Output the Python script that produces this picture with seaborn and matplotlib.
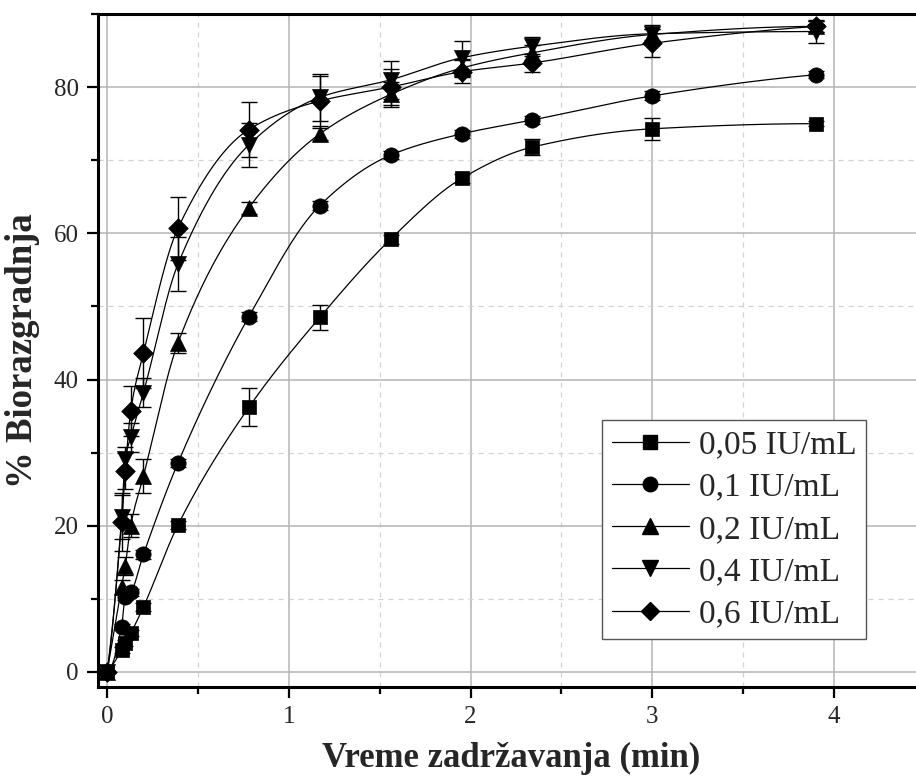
import numpy as np
import pandas as pd
import matplotlib
matplotlib.use("Agg")
import matplotlib.pyplot as plt
from matplotlib.lines import Line2D
from matplotlib.ticker import MultipleLocator
import seaborn as sns

# ---- data ----
time_min = [0, 0.08, 0.10, 0.13, 0.20, 0.39, 0.78, 1.17, 1.56, 1.95, 2.34, 3.0, 3.9]
labels = ["0,05 IU/mL", "0,1 IU/mL", "0,2 IU/mL", "0,4 IU/mL", "0,6 IU/mL"]
y_005 = [0, 3.0, 4.0, 5.3, 8.9, 20.1, 36.2, 48.5, 59.2, 67.5, 71.8, 74.3, 75.0]
y_01 = [0, 6.2, 10.3, 10.9, 16.1, 28.6, 48.6, 63.8, 70.7, 73.6, 75.5, 78.8, 81.7]
y_02 = [0, 11.6, 14.5, 20.0, 26.8, 45.0, 63.5, 73.6, 79.0, 82.6, 84.7, 87.2, 88.3]
y_04 = [0, 21.2, 29.2, 32.1, 38.2, 55.8, 72.1, 78.6, 81.0, 84.0, 85.6, 87.3, 87.6]
y_06 = [0, 20.5, 27.5, 35.7, 43.6, 60.7, 74.2, 78.1, 80.0, 82.1, 83.3, 86.0, 88.3]
e_005 = [0, 0.4, 0.4, 0.4, 0.5, 0.6, 2.6, 1.7, 0.6, 0.6, 1.1, 1.5, 0.3]
e_01 = [0, 0.4, 0.5, 0.5, 0.6, 0.6, 0.6, 0.6, 0.6, 0.6, 0.6, 0.6, 0.5]
e_02 = [0, 1.0, 1.2, 1.6, 2.3, 1.4, 0.8, 0.8, 1.7, 1.2, 1.0, 0.8, 0.8]
e_04 = [0, 3.0, 1.6, 2.0, 2.0, 3.7, 3.0, 3.2, 2.6, 2.3, 1.3, 1.2, 1.6]
e_06 = [0, 4.0, 2.5, 3.4, 4.8, 4.3, 3.7, 3.4, 2.5, 1.6, 1.2, 1.9, 0.8]

series_y = [y_005, y_01, y_02, y_04, y_06]
series_e = [e_005, e_01, e_02, e_04, e_06]
markers = ["s", "o", "^", "v", "D"]
msizes = [10, 11, 11.5, 11.5, 10]


def pchip(x, y, xs):
    x = np.asarray(x, float); y = np.asarray(y, float)
    h = np.diff(x); d = np.diff(y) / h
    n = len(x); m = np.zeros(n)
    for k in range(1, n - 1):
        if d[k - 1] * d[k] <= 0:
            m[k] = 0
        else:
            w1 = 2 * h[k] + h[k - 1]; w2 = h[k] + 2 * h[k - 1]
            m[k] = (w1 + w2) / (w1 / d[k - 1] + w2 / d[k])

    def endslope(h0, h1, d0, d1):
        s = ((2 * h0 + h1) * d0 - h0 * d1) / (h0 + h1)
        if np.sign(s) != np.sign(d0):
            s = 0
        elif np.sign(d0) != np.sign(d1) and abs(s) > abs(3 * d0):
            s = 3 * d0
        return s
    m[0] = endslope(h[0], h[1], d[0], d[1])
    m[-1] = endslope(h[-1], h[-2], d[-1], d[-2])
    idx = np.clip(np.searchsorted(x, xs) - 1, 0, n - 2)
    t = (xs - x[idx]) / h[idx]
    h00 = 2 * t**3 - 3 * t**2 + 1; h10 = t**3 - 2 * t**2 + t
    h01 = -2 * t**3 + 3 * t**2; h11 = t**3 - t**2
    return h00 * y[idx] + h10 * h[idx] * m[idx] + h01 * y[idx + 1] + h11 * h[idx] * m[idx + 1]


sns.set_theme(style="white")
plt.rcParams["font.family"] = ["Liberation Serif", "DejaVu Serif"]

fig = plt.figure(figsize=(9.16, 7.84), dpi=100)
ax = fig.add_axes([98 / 916, 1 - 686.6 / 784, (925 - 98) / 916, (686.6 - 14) / 784])

xs = np.linspace(0, 3.9, 800)
for lab, ys, es, mk, ms in zip(labels, series_y, series_e, markers, msizes):
    dense = pd.DataFrame({"x": xs, "y": pchip(time_min, ys, xs)})
    sns.lineplot(data=dense, x="x", y="y", ax=ax, color="black", lw=0.9, zorder=3,
                 legend=False, estimator=None, sort=False)
    ax.errorbar(time_min, ys, yerr=es, fmt="none", ecolor="black", elinewidth=1.0,
                capsize=6, capthick=1.0, zorder=4)
    pts = pd.DataFrame({"x": time_min, "y": ys})
    sns.scatterplot(data=pts, x="x", y="y", ax=ax, marker=mk, s=ms**2, color="black",
                    edgecolor="black", linewidth=0.5, zorder=5, legend=False)

ax.set_xlim(-0.05, 4.5)
ax.set_ylim(-2, 90)
ax.xaxis.set_major_locator(MultipleLocator(1))
ax.xaxis.set_minor_locator(MultipleLocator(0.5))
ax.yaxis.set_major_locator(MultipleLocator(20))
ax.yaxis.set_minor_locator(MultipleLocator(10))
ax.grid(which="major", color="#b4b4b4", lw=1.1, ls="-", zorder=0)
ax.grid(which="minor", color="#d2d2d2", lw=0.9, ls=(0, (4, 4)), zorder=0)
ax.set_axisbelow(True)

for side in ["left", "bottom", "top"]:
    ax.spines[side].set_visible(True)
    ax.spines[side].set_color("black")
    ax.spines[side].set_linewidth(2.2)
ax.spines["right"].set_visible(False)

ax.tick_params(which="major", direction="out", length=8, width=1.6, color="black",
               labelsize=18, pad=6, bottom=True, left=True, top=False, right=False)
ax.tick_params(which="minor", direction="out", length=5, width=1.6, color="black",
               bottom=True, left=True, top=False, right=False)

ax.set_xlabel("Vreme zadržavanja (min)", fontsize=25, fontweight="bold", labelpad=10)
ax.set_ylabel("% Biorazgradnja", fontsize=26.5, fontweight="bold", labelpad=10)

handles = [Line2D([0], [0], color="black", lw=0.9, marker=mk, markersize=ms * 0.95,
                  markerfacecolor="black", markeredgecolor="black")
           for mk, ms in zip(markers, msizes)]
leg = ax.legend(handles, labels, loc="upper left", bbox_to_anchor=((602 - 98) / 827, (686.6 - 420) / 672.6),
                fontsize=24, frameon=True, fancybox=False, edgecolor="#555555",
                framealpha=1, handlelength=2.3, handletextpad=0.3, labelspacing=0.35,
                borderpad=0.3, borderaxespad=0)
leg.get_frame().set_linewidth(1.0)

fig.savefig("out.png", dpi=100)
